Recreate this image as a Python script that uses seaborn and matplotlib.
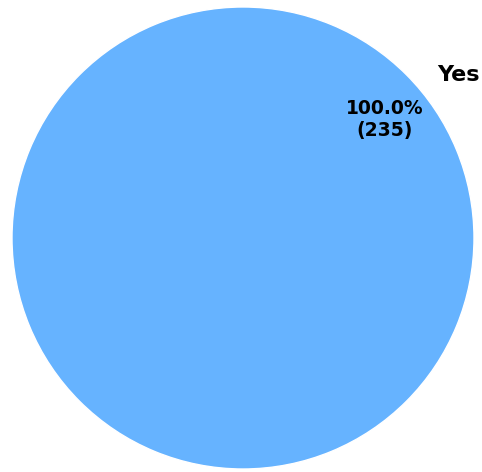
import matplotlib
matplotlib.use("Agg")
import matplotlib.pyplot as plt
import seaborn as sns

labels = ["Yes"]
counts = [235]
colors = ["#66b3ff"]

sns.set_theme(style="white")
plt.rcParams['font.family'] = ['DejaVu Sans']

fig = plt.figure(figsize=(4.82, 4.72), dpi=100)
W, H = 482, 472
cx, cy, r = 243, 238, 231
ax = fig.add_axes([(cx - r) / W, (H - cy - r) / H, 2 * r / W, 2 * r / H])

total = sum(counts)

def fmt(p):
    return f"{p:.1f}%\n({int(round(p * total / 100))})"

wedges, texts, autotexts = ax.pie(
    counts, labels=labels, colors=colors, autopct=fmt,
    startangle=220, pctdistance=0.8, labeldistance=1.1,
    textprops={"fontsize": 14, "fontweight": "bold", "color": "black"},
)
for t in texts:
    t.set_fontsize(16)
for t in autotexts:
    t.set_fontsize(13.5)
ax.set_xlim(-1, 1)
ax.set_ylim(-1, 1)
ax.set_aspect("equal")
ax.axis("off")
fig.savefig("out.png", dpi=100)
